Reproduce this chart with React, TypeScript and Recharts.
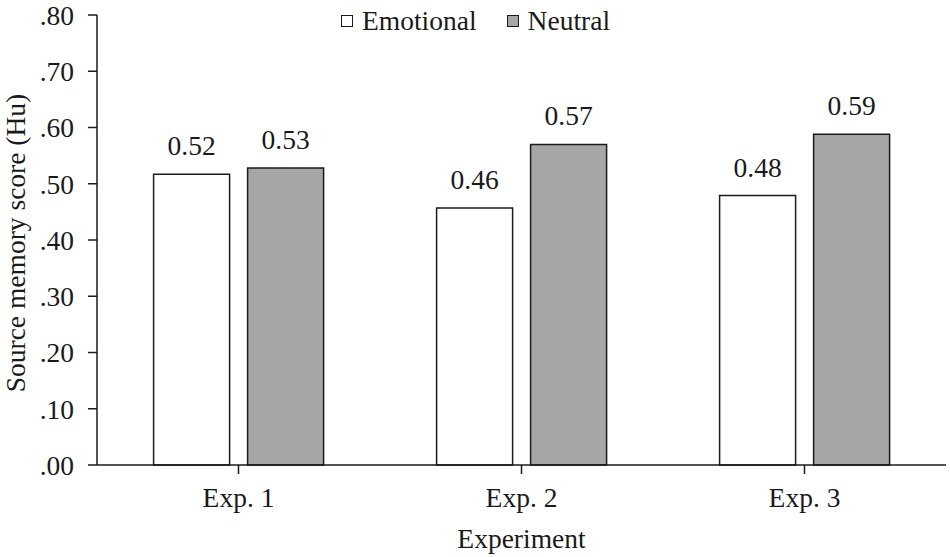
import React from 'react';
import { BarChart, Bar, XAxis, YAxis, LabelList, Label } from 'recharts';

const experiments = ['Exp. 1', 'Exp. 2', 'Exp. 3'];
const emotional = [0.517, 0.457, 0.479];
const neutral = [0.528, 0.57, 0.588];
const yTicks = [0, 0.1, 0.2, 0.3, 0.4, 0.5, 0.6, 0.7, 0.8];

const data = experiments.map((name, i) => ({
  name,
  emotional: emotional[i],
  neutral: neutral[i],
}));

const FONT = "'Liberation Serif', Tinos, 'Times New Roman', serif";
const INK = '#1a1a1a';
const FS = 27.5;

const fmtTick = (v: number) => v.toFixed(2).replace(/^0/, '');

function LegendBox() {
  const item = (fill: string, text: string) => (
    <div style={{ display: 'flex', alignItems: 'center', marginRight: 30 }}>
      <div style={{ width: 10, height: 10, border: `1.5px solid ${INK}`, background: fill, marginRight: 9 }} />
      <span>{text}</span>
    </div>
  );
  return (
    <div
      style={{
        position: 'absolute',
        left: 341,
        top: 4,
        display: 'flex',
        fontFamily: FONT,
        fontSize: FS,
        color: INK,
        lineHeight: '34px',
      }}
    >
      {item('#ffffff', 'Emotional')}
      {item('#a6a6a6', 'Neutral')}
    </div>
  );
}

export default function App() {
  return (
    <div style={{ position: 'absolute', left: 0, top: 0, width: 950, height: 557, background: '#fff', fontFamily: FONT }}>
      <BarChart
        width={950}
        height={557}
        data={data}
        margin={{ top: 15, right: 4, bottom: 0, left: 0 }}
        barCategoryGap="20%"
        barGap={18}
        style={{ fontFamily: FONT }}
      >
        <XAxis
          dataKey="name"
          height={92}
          tickSize={9}
          tickMargin={13}
          stroke={INK}
          strokeWidth={1.5}
          tick={{ fill: INK, fontSize: FS, fontFamily: FONT }}
        >
          <Label
            content={({ viewBox }: any) => (
              <text
                x={viewBox.x + viewBox.width / 2}
                y={548}
                textAnchor="middle"
                fill={INK}
                fontSize={FS}
                style={{ fontFamily: FONT }}
              >
                Experiment
              </text>
            )}
          />
        </XAxis>
        <YAxis
          width={97}
          domain={[0, 0.8]}
          ticks={yTicks}
          tickFormatter={fmtTick}
          tickSize={9}
          tickMargin={14}
          stroke={INK}
          strokeWidth={1.5}
          tick={{ fill: INK, fontSize: FS, fontFamily: FONT }}
          interval={0}
        >
          <Label
            content={() => {
              const cx = 25;
              const cy = 243;
              return (
                <text
                  x={cx}
                  y={cy}
                  transform={`rotate(-90 ${cx} ${cy})`}
                  textAnchor="middle"
                  fill={INK}
                  fontSize={FS}
                  style={{ fontFamily: FONT }}
                >
                  Source memory score (Hu)
                </text>
              );
            }}
          />
        </YAxis>
        <Bar dataKey="emotional" fill="#ffffff" stroke={INK} strokeWidth={1.5} isAnimationActive={false}>
          <LabelList
            dataKey="emotional"
            position="top"
            offset={19}
            formatter={(v: number) => v.toFixed(2)}
            style={{ fill: INK, fontSize: FS, fontFamily: FONT }}
          />
        </Bar>
        <Bar dataKey="neutral" fill="#a6a6a6" stroke={INK} strokeWidth={1.5} isAnimationActive={false}>
          <LabelList
            dataKey="neutral"
            position="top"
            offset={19}
            formatter={(v: number) => v.toFixed(2)}
            style={{ fill: INK, fontSize: FS, fontFamily: FONT }}
          />
        </Bar>
      </BarChart>
      <LegendBox />
    </div>
  );
}
